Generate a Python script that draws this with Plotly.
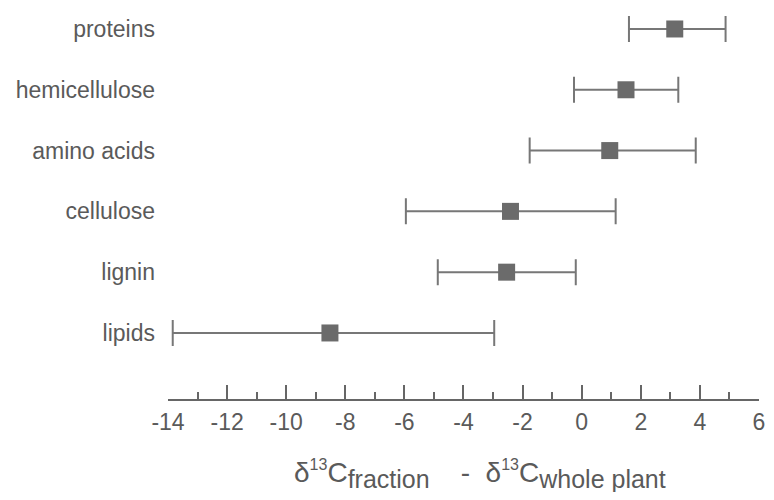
import plotly.graph_objects as go

categories = ["proteins", "hemicellulose", "amino acids", "cellulose", "lignin", "lipids"]
means = [3.15, 1.5, 0.95, -2.41, -2.54, -8.52]
lows = [1.6, -0.26, -1.76, -5.95, -4.87, -13.84]
highs = [4.87, 3.27, 3.86, 1.15, -0.2, -2.96]
x_ticks = [-14, -12, -10, -8, -6, -4, -2, 0, 2, 4, 6]
x_minor = [-13, -11, -9, -7, -5, -3, -1, 1, 3, 5]

GRAY = "#6b6b6b"
LINE = "#777777"
TEXT = "#5a5a5a"
FONT = "Liberation Sans, Arial, sans-serif"

err_plus = [h - m for h, m in zip(highs, means)]
err_minus = [m - l for m, l in zip(means, lows)]

fig = go.Figure()
fig.add_trace(go.Scatter(
    x=means, y=categories, mode="markers",
    marker=dict(symbol="square", size=17, color=GRAY, line=dict(width=0)),
    error_x=dict(type="data", symmetric=False, array=err_plus, arrayminus=err_minus,
                 color=LINE, thickness=2, width=13),
    showlegend=False, hoverinfo="skip",
))

fig.update_layout(
    width=766, height=484,
    margin=dict(l=160, r=15, t=0, b=93),
    paper_bgcolor="white", plot_bgcolor="white",
    font=dict(family=FONT, color=TEXT),
    xaxis=dict(
        range=[-14, 6.001], tickvals=x_ticks, ticktext=[str(v) for v in x_ticks],
        showgrid=False, zeroline=False, automargin=False,
        showline=True, linecolor="#666666", linewidth=1.5,
        ticks="inside", ticklen=14, tickwidth=1.5, tickcolor="#666666",
        minor=dict(tickvals=x_minor, ticks="inside", ticklen=7,
                   tickwidth=1.5, tickcolor="#666666"),
        tickfont=dict(size=23, color=TEXT, family=FONT),
        ticklabelstandoff=2,
        ticklabeloverflow="allow",
        fixedrange=True,
    ),
    yaxis=dict(
        categoryorder="array", categoryarray=categories[::-1],
        range=[-1.086, 5.345], automargin=False,
        showgrid=False, zeroline=False, showline=False, ticks="",
        tickfont=dict(size=23, color=TEXT, family=FONT),
        ticklabelstandoff=12,
        fixedrange=True,
    ),
)

nb = "\u00a0"
title = (
    "δ<sup><span style='font-size:16px'>13</span></sup>C"
    "<sub><span style='font-size:25px'>fraction</span></sub>"
    + nb * 4 + "-" + nb * 2 +
    "δ<sup><span style='font-size:16px'>13</span></sup>C"
    "<sub><span style='font-size:25px'>whole plant</span></sub>"
)
fig.add_annotation(
    xref="paper", yref="paper", x=0.528, y=-0.192, xanchor="center", yanchor="middle",
    text=title, showarrow=False, font=dict(size=28, color=TEXT, family=FONT),
)

fig.write_html("out.html")
